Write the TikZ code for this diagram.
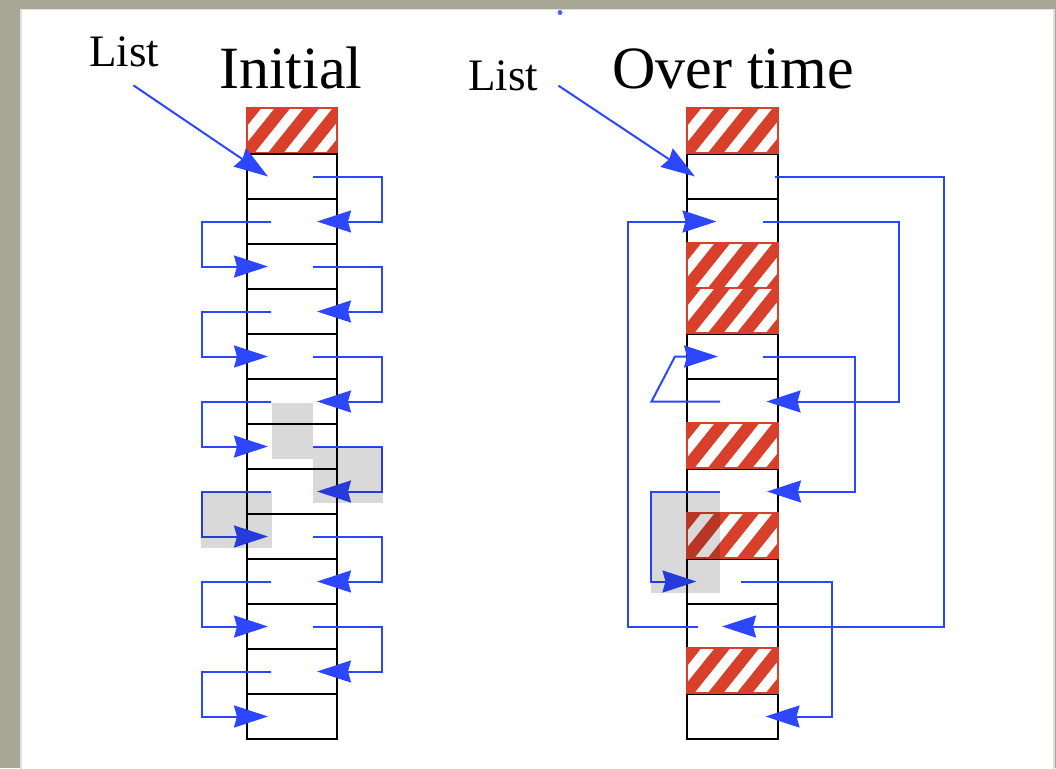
\documentclass[tikz,border=0pt]{standalone}
\usepackage{fontspec}
\setmainfont{Liberation Serif}
\usetikzlibrary{arrows.meta,calc}
\definecolor{slidebg}{RGB}{168,166,148}
\definecolor{hred}{RGB}{216,64,44}
\definecolor{pblue}{RGB}{45,70,255}
\begin{document}
\begin{tikzpicture}[x=1pt,y=-1pt,
  cell/.style={draw=black, line width=2.6pt, fill=white, minimum width=90pt,
    minimum height=45pt, inner sep=0pt, outer sep=0pt},
  hatched/.style={fill=hred, draw=hred, line width=2pt, minimum width=#1,
    minimum height=45pt, inner sep=0pt, outer sep=0pt,
    path picture={\foreach \k in {-2,...,3}{
      \fill[white] ($(path picture bounding box.south west)+(8+29*\k,0)$)
        -- ++(13,0) -- ++(36,-45) -- ++(-13,0) -- cycle;}}},
  ptr/.style={draw=pblue, line width=2pt,
    -{Stealth[length=34pt,width=22pt,inset=3pt]}},
  lbl/.style={anchor=base west, inner sep=0pt},
  small/.style={font=\fontsize{45}{50}\selectfont},
  big/.style={font=\fontsize{60}{66}\selectfont},
  freed/.style={fill=black, fill opacity=0.15}]
\useasboundingbox (0,0) rectangle (1056,768);
% slide background and white panel
\fill[slidebg] (0,0) rectangle (1056,768);
\fill[white, draw=black!12, line width=1.5pt] (21,9.5) rectangle (1054,772);
\fill[pblue!85] (560,12.5) circle (2.5pt);

% headings
\node[lbl, small] (listL) at (89,66.7) {List};
\node[lbl, big] (initial) at (219,88.3) {Initial};
\node[lbl, small] (listR) at (468,90) {List};
\node[lbl, big] (overtime) at (612,88.3) {Over time};

% left column: one used block on top, then the free list cells
\node[hatched=90pt] (L0) at (292,130) {};
\foreach \k in {1,...,13}
  \node[cell] (L\k) at (292,131.5+45*\k) {};

% right column after fragmentation
\foreach \k in {1,2,5,6,8,10,11,13}
  \node[cell, minimum width=91pt] (R\k) at (732.5,131.5+45*\k) {};
\foreach \k in {0,3,4,7,9,12}
  \node[hatched=91pt] (R\k) at (732.5,130+45*\k) {};

% list heads
\draw[ptr] ([shift={(-26pt,-18pt)}]listL.south east) -- ([xshift=-24pt]L1.center);
\draw[ptr] ([shift={(20pt,5pt)}]listR.south east) -- ([xshift=-37.5pt]R1.center);

% initial free list: alternating loops down the column
\foreach \k in {1,3,5,7,9,11}{
  \pgfmathtruncatemacro\n{\k+1}
  \draw[ptr] ([xshift=21pt]L\k.center) -- ([xshift=90pt]L\k.center)
    |- ([xshift=25pt]L\n.center);}
\foreach \k in {2,4,6,8,10,12}{
  \pgfmathtruncatemacro\n{\k+1}
  \draw[ptr] ([xshift=-21pt]L\k.center) -- ([xshift=-90pt]L\k.center)
    |- ([xshift=-24pt]L\n.center);}

% scrambled free list
\draw[ptr] ([xshift=42.5pt]R1.center) -- ([xshift=211.5pt]R1.center)
  |- ([xshift=-10.5pt]R11.center);
\draw[ptr] ([xshift=-34.5pt]R11.center) -- ([xshift=-104.5pt]R11.center)
  |- ([xshift=-16pt]R2.center);
\draw[ptr] ([xshift=30.5pt]R2.center) -- ([xshift=166.5pt]R2.center)
  |- ([xshift=34pt]R6.center);
\draw[ptr] ([xshift=-12.5pt]R6.center) -- ([xshift=-81pt]R6.center)
  -- ([xshift=-57.5pt]R5.center) -- ([xshift=-14.5pt]R5.center);
\draw[ptr] ([xshift=30.5pt]R5.center) -- ([xshift=122.5pt]R5.center)
  |- ([xshift=34.5pt]R8.center);
\draw[ptr] ([xshift=-12.5pt]R8.center) -- ([xshift=-82pt]R8.center)
  |- ([xshift=-36pt]R10.center);
\draw[ptr] ([xshift=8pt]R10.center) -- ([xshift=99pt]R10.center)
  |- ([xshift=33pt]R13.center);

% shaded highlights
\fill[freed] (272,403) rectangle (313,459);
\fill[freed] (313,447) rectangle (383,503);
\fill[freed] (201,492) rectangle (272,548);
\fill[freed] (651,493) rectangle (720,593);
\end{tikzpicture}
\end{document}
